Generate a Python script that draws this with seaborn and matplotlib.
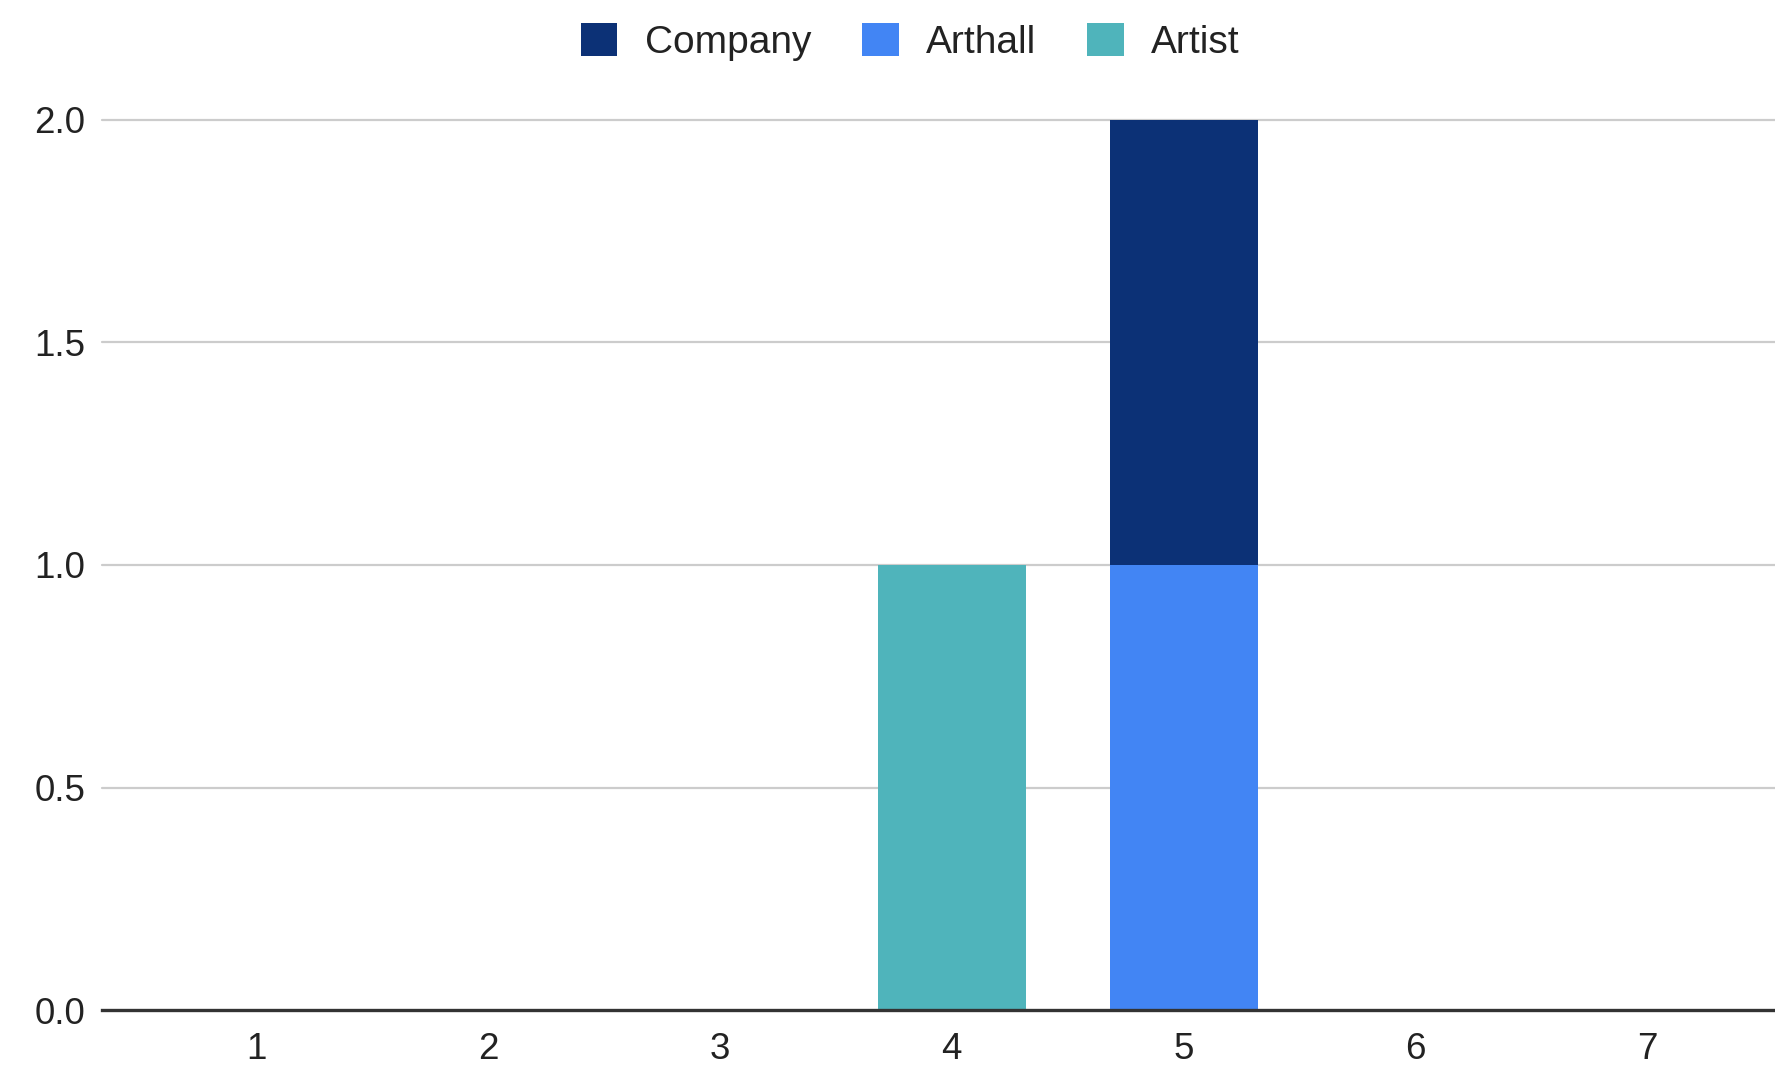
import matplotlib
matplotlib.use("Agg")
import matplotlib.pyplot as plt
import seaborn as sns
import pandas as pd
from matplotlib.patches import Patch

categories = [1, 2, 3, 4, 5, 6, 7]
series_names = ["Company", "Arthall", "Artist"]
company = [0, 0, 0, 0, 1, 0, 0]
arthall = [0, 0, 0, 0, 1, 0, 0]
artist = [0, 0, 0, 1, 0, 0, 0]
colors = {"Company": "#0c3176", "Arthall": "#4285f4", "Artist": "#4fb4bb"}
y_ticks = [0.0, 0.5, 1.0, 1.5, 2.0]

rows = []
for name, vals in zip(series_names, [company, arthall, artist]):
    for c, v in zip(categories, vals):
        rows.append({"category": c, "series": name, "count": v})
df = pd.DataFrame(rows)

sns.set_theme(style="white")
plt.rcParams["font.family"] = ["Liberation Sans", "DejaVu Sans"]

fig = plt.figure(figsize=(17.75, 10.67), dpi=100)
ax = fig.add_axes([102 / 1775, 57 / 1067, 1 - 102 / 1775, 890 / 1067])

sns.histplot(
    data=df, x="category", weights="count", hue="series",
    hue_order=series_names, palette=colors, multiple="stack",
    discrete=True, shrink=0.64, linewidth=0, alpha=1, legend=False, ax=ax,
)

ax.set_xlim(0.335, 7.55)
ax.set_ylim(0, 2.0)
ax.set_xticks(categories)
ax.set_xticklabels([str(c) for c in categories])
ax.set_yticks(y_ticks)
ax.set_yticklabels([f"{t:.1f}" for t in y_ticks])
ax.set_xlabel("")
ax.set_ylabel("")
ax.tick_params(axis="both", length=0, labelsize=26.5, colors="#222222")
ax.tick_params(axis="x", pad=16)
ax.tick_params(axis="y", pad=12)

for t in y_ticks[1:]:
    ax.axhline(t, color="#cccccc", linewidth=1.6, zorder=0, clip_on=False)
for s in ["top", "right", "left"]:
    ax.spines[s].set_visible(False)
ax.spines["bottom"].set_color("#333333")
ax.spines["bottom"].set_linewidth(2.4)

handles = [Patch(facecolor=colors[n], edgecolor="none", label=n) for n in series_names]
fig.legend(
    handles=handles, loc="center", bbox_to_anchor=(910 / 1775, 1 - 42 / 1067),
    ncol=3, frameon=False, fontsize=28, handlelength=0.95, handleheight=0.95,
    handletextpad=0.7, columnspacing=1.3, labelcolor="#222222",
)

fig.savefig("out.png", dpi=100, facecolor="white")
